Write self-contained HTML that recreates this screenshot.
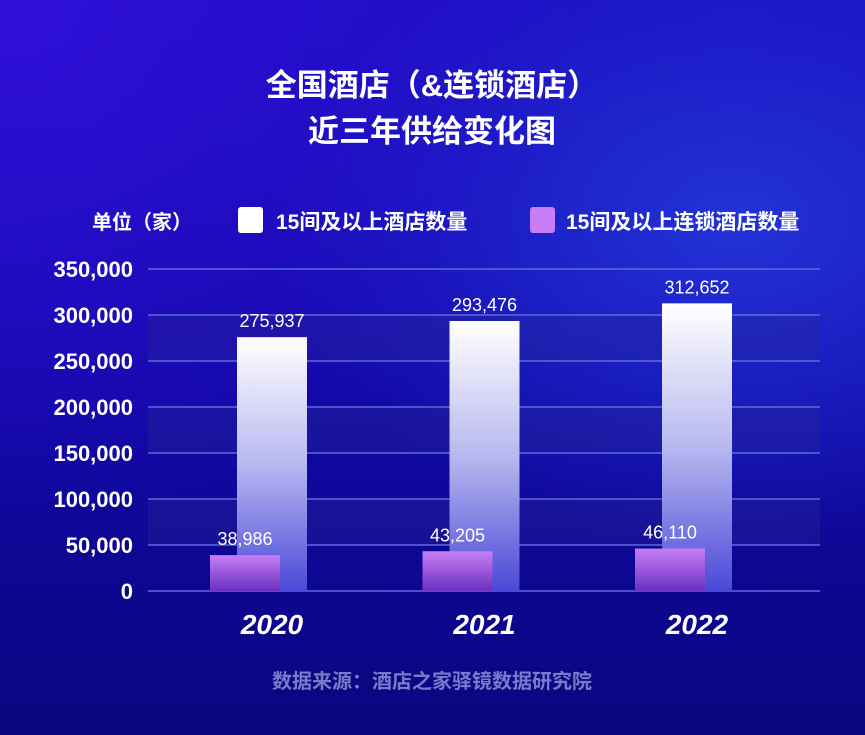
<!DOCTYPE html>
<html><head><meta charset="utf-8"><style>
body{margin:0;width:865px;height:735px;overflow:hidden;font-family:"Liberation Sans","Noto Sans CJK SC",sans-serif;}
#bg{position:absolute;left:0;top:0;width:865px;height:735px;background:radial-gradient(ellipse at 0% 0%,#3010d8 0%,rgba(30,12,190,0) 50%),radial-gradient(ellipse at 85% 30%,#2233d8 0%,rgba(24,20,180,0) 45%),linear-gradient(180deg,#1a0cc0 0%,#1208a8 50%,#0a0680 100%);}
</style></head><body>
<div id="bg"></div>
<svg width="865" height="735" style="position:absolute;left:0;top:0">
<defs>
<linearGradient id="gw" x1="0" y1="0" x2="0" y2="1"><stop offset="0" stop-color="#ffffff"/><stop offset="0.5" stop-color="#b8b8f0"/><stop offset="1" stop-color="#4a48d8"/></linearGradient>
<linearGradient id="gp" x1="0" y1="0" x2="0" y2="1"><stop offset="0" stop-color="#c77ef5"/><stop offset="1" stop-color="#6a30c0"/></linearGradient>
</defs>
<text x="432" y="96" text-anchor="middle" fill="#fff" font-size="31" font-weight="bold">全国酒店（&amp;连锁酒店）</text>
<text x="432" y="142" text-anchor="middle" fill="#fff" font-size="31" font-weight="bold">近三年供给变化图</text>
<text x="92" y="229" fill="#fff" font-size="20" font-weight="bold">单位（家）</text>
<rect x="238" y="207" width="25" height="26" rx="3" fill="#fff"/>
<text x="276" y="229" fill="#fff" font-size="21" font-weight="bold">15间及以上酒店数量</text>
<rect x="530" y="207" width="25" height="26" rx="3" fill="#c77ef5"/>
<text x="566" y="229" fill="#fff" font-size="21" font-weight="bold">15间及以上连锁酒店数量</text>
<g id="plot"></g>
<text x="432" y="688" text-anchor="middle" fill="#7a7ac8" font-size="20" font-weight="bold">数据来源：酒店之家驿镜数据研究院</text>
</svg>
<script>
const categories=["2020","2021","2022"];
const allHotels=[275937,293476,312652];
const chainHotels=[38986,43205,46110];
const ticks=[0,50000,100000,150000,200000,250000,300000,350000];
const NS="http://www.w3.org/2000/svg";
const g=document.getElementById('plot');
const x0=148,x1=820,yTop=269,yBot=591,maxV=350000;
const y=v=>yBot-(v/maxV)*(yBot-yTop);
const cx=i=>272+i*212.5;
function mk(t,a){const e=document.createElementNS(NS,t);for(const k in a)e.setAttribute(k,a[k]);g.appendChild(e);return e;}
for(let i=0;i<ticks.length;i++){
  if(i<ticks.length-1&&i%2==1){const b=mk('rect',{x:x0,y:y(ticks[i+1]),width:x1-x0,height:y(ticks[i])-y(ticks[i+1]),fill:'rgba(40,40,150,0.35)'});
  
  }
  const l=mk('line',{x1:x0,x2:x1,y1:y(ticks[i]),y2:y(ticks[i]),stroke:'#5a6ae0','stroke-width':1.5});
  
  
  const t=mk('text',{x:133,y:y(ticks[i])+8,'text-anchor':'end',fill:'#fff','font-size':22,'font-weight':'bold'});
  t.textContent=ticks[i].toLocaleString('en-US');
  
  
}
categories.forEach((c,i)=>{
  const w=mk('rect',{x:cx(i)-35,y:y(allHotels[i]),width:70,height:yBot-y(allHotels[i]),fill:'url(#gw)'});
  
  
  const p=mk('rect',{x:cx(i)-62,y:y(chainHotels[i]),width:70,height:yBot-y(chainHotels[i]),fill:'url(#gp)'});
  
  
  const tw=mk('text',{x:cx(i),y:y(allHotels[i])-10,'text-anchor':'middle',fill:'#fff','font-size':18});
  tw.textContent=allHotels[i].toLocaleString('en-US');
  
  
  const tp=mk('text',{x:cx(i)-27,y:y(chainHotels[i])-10,'text-anchor':'middle',fill:'#fff','font-size':18});
  tp.textContent=chainHotels[i].toLocaleString('en-US');
  
  
  const xl=mk('text',{x:cx(i),y:634,'text-anchor':'middle',fill:'#fff','font-size':28,'font-weight':'bold','font-style':'italic'});
  xl.textContent=c;
  
  
});
</script>
</body></html>
